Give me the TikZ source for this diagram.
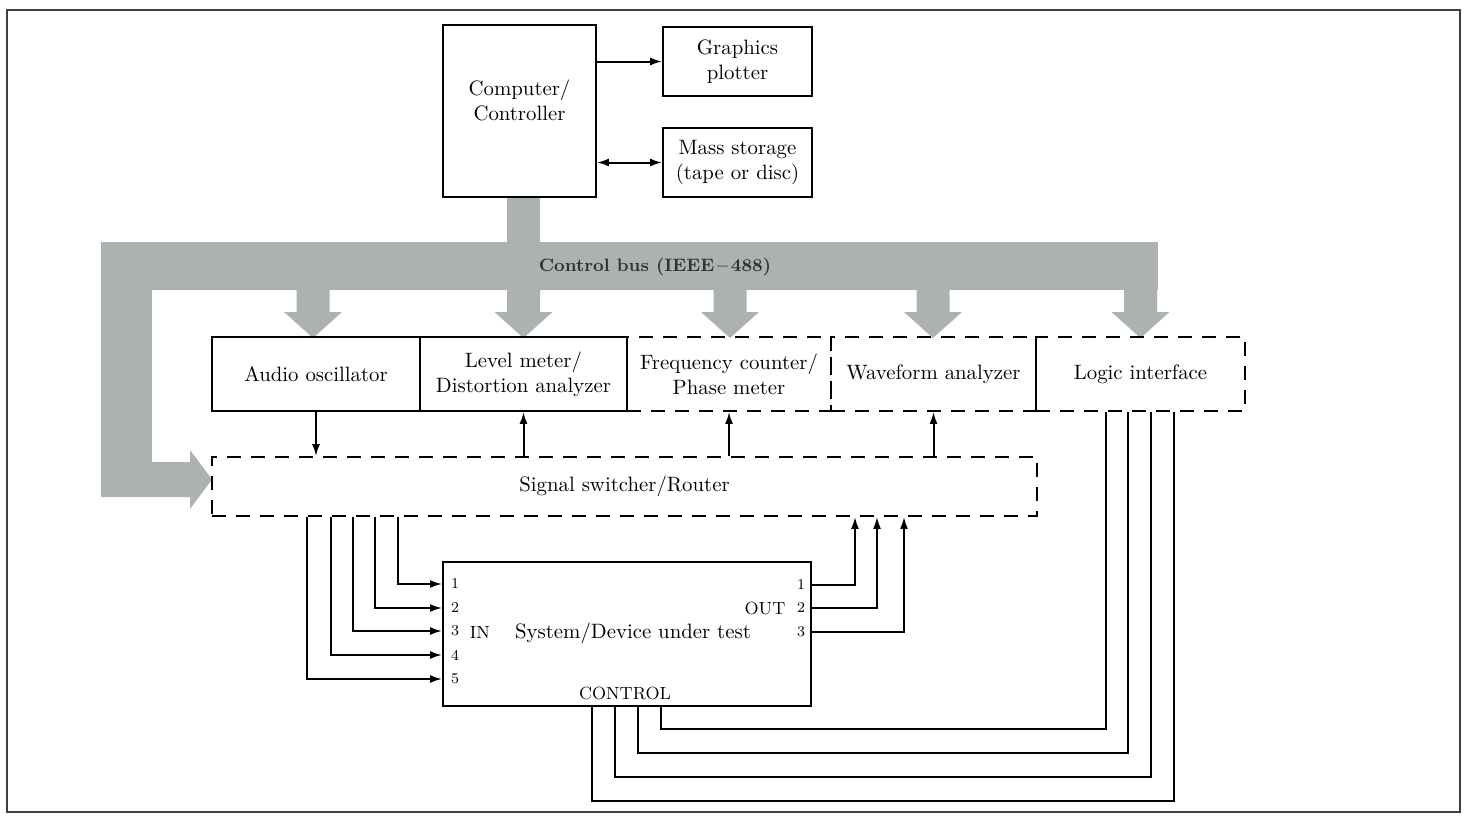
\documentclass[tikz,border=0pt]{standalone}
\usetikzlibrary{arrows.meta}
\definecolor{busgray}{RGB}{172,178,178}
\tikzset{
  sz/.style 2 args={minimum width=#1*0.5pt, minimum height=#2*0.5pt},
  blk/.style={draw, line width=0.9pt, inner sep=0pt, align=center},
  dblk/.style={blk, dash pattern=on 7pt off 5pt},
  wire/.style={line width=1pt, -{Latex[length=6pt,width=4pt]}},
  wiretwo/.style={line width=1pt, {Latex[length=6pt,width=4pt]}-{Latex[length=6pt,width=4pt]}},
  plain/.style={line width=1pt},
  pin/.style={font=\fontsize{7.5}{8}\selectfont, inner sep=0pt},
  lbl/.style={font=\fontsize{8.8}{10}\selectfont, inner sep=0pt},
}

\begin{document}
\begin{tikzpicture}[x=0.5pt, y=-0.5pt, font=\fontsize{10.4}{12.5}\selectfont]

  \useasboundingbox (0,0) rectangle (1468,815);
  \draw[line width=0.8pt, black!75] (7,10) rectangle (1460,812);

  % control bus
  \fill[busgray] (507,196) rectangle (540,243);
  \fill[busgray] (101,242) rectangle (1158,290);
  \fill[busgray] (101,242) rectangle (152,497);
  \fill[busgray] (101,462) -- (190,462) -- (190,450) -- (212,479.5)
                 -- (190,509) -- (190,497) -- (101,497) -- cycle;
  \foreach \c in {313,523.5,730,933,1140.5}
    \fill[busgray] (\c-16.5,289) -- (\c+16.5,289) -- (\c+16.5,312) -- (\c+29,312)
                   -- (\c,338) -- (\c-29,312) -- (\c-16.5,312) -- cycle;
  \node[font=\fontsize{9}{11}\selectfont\bfseries, text=black!80] (busname) at (655,267) {Control bus (IEEE\,--\,488)};

  \node[blk, sz={153}{172}] (comp) at (519.5,111) {};
  \node[align=center] (comptxt) at (519.5,100) {Computer/\\Controller};
  \node[blk, sz={149}{69}] (plot) at (737.5,61.5) {Graphics\\plotter};
  \node[blk, sz={149}{69}] (mass) at (737.5,162.5) {Mass storage\\(tape or disc)};

  \node[blk, sz={208}{74}] (audio) at (316,374) {Audio oscillator};
  \node[blk, sz={207}{74}] (level) at (523.5,374) {Level meter/\\Distortion analyzer};
  \node[dblk, sz={204}{74}] (freq) at (729,374) {Frequency counter/\\Phase meter};
  \node[dblk, sz={205}{74}] (wave) at (933.5,374) {Waveform analyzer};
  \node[dblk, sz={209}{74}] (logic) at (1140.5,374) {Logic interface};

  \node[dblk, sz={825}{59}] (switch) at (624.5,486.5) {Signal switcher/Router};
  \node[blk, sz={368}{144}] (dut) at (627,634) {};
  \node (duttxt) at (633,633) {System/Device under test};

  \draw[wire] (comp.east |- plot) -- (plot.west);
  \draw[wiretwo] (comp.east |- mass) -- (mass.west);

  \draw[wire] (audio.south) -- (audio.south |- switch.north);
  \draw[wire] (level.south |- switch.north) -- (level.south);
  \draw[wire] (freq.south |- switch.north) -- (freq.south);
  \draw[wire] (wave.south |- switch.north) -- (wave.south);

  % inputs
  \foreach \x/\y/\n in {398/584/1, 375/608/2, 353/631/3, 331/655/4, 307/679/5} {
    \draw[wire] (switch.south -| \x,0) |- (dut.west |- 0,\y);
    \node[pin] at (455,\y) {\n};
  }
  \node[lbl] (inlbl) at (480,632) {IN};

  % outputs
  \foreach \y/\x/\n in {585/855/1, 608/877/2, 632/904/3} {
    \draw[wire] (dut.east |- 0,\y) -| (\x,0 |- switch.south);
    \node[pin] at (801,\y) {\n};
  }
  \node[lbl] (outlbl) at (765,608) {OUT};

  % control lines
  \node[lbl] (ctrl) at (625,693) {CONTROL};
  \foreach \a/\y/\b in {592/801/1174, 615/777/1151, 638/753/1128, 661/729/1106}
    \draw[plain] (dut.south -| \a,0) |- (\b,\y) -- (logic.south -| \b,0);

\end{tikzpicture}
\end{document}
